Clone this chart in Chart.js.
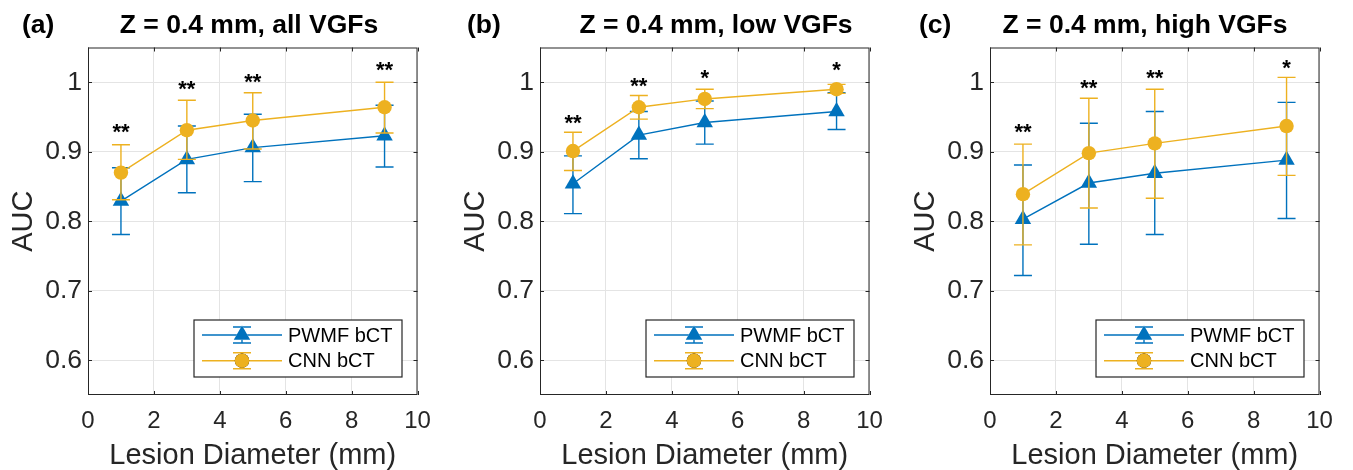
<!doctype html>
<html>
<head>
<meta charset="utf-8">
<title>AUC vs lesion diameter</title>
<script src="https://cdn.jsdelivr.net/npm/chart.js"></script>
<style>
  body { margin: 0; background: #fff; }
  .panel { position: absolute; top: 0; width: 451px; height: 470px; }
</style>
</head>
<body>
<div class="panel" style="left:0px"><canvas id="pa"></canvas></div>
<div class="panel" style="left:452px"><canvas id="pb"></canvas></div>
<div class="panel" style="left:902px"><canvas id="pc"></canvas></div>
<script>
// lesion diameters (mm)
const diam = [1, 3, 5, 9];
const xTicks = [0, 2, 4, 6, 8, 10];
const yTicks = [0.6, 0.7, 0.8, 0.9, 1.0];
const seriesNames = ['PWMF bCT', 'CNN bCT'];

// (a) all VGFs
const pwmfA = [0.829, 0.889, 0.906, 0.923];
const pwmfALo = [0.781, 0.841, 0.857, 0.878];
const pwmfAHi = [0.877, 0.937, 0.954, 0.967];
const cnnA = [0.870, 0.931, 0.945, 0.964];
const cnnALo = [0.831, 0.889, 0.904, 0.927];
const cnnAHi = [0.910, 0.974, 0.985, 1.000];
const starsA = ['**', '**', '**', '**'];
const starYA = [0.933, 0.995, 1.005, 1.022];

// (b) low VGFs
const pwmfB = [0.854, 0.924, 0.942, 0.958];
const pwmfBLo = [0.811, 0.890, 0.911, 0.932];
const pwmfBHi = [0.894, 0.958, 0.973, 0.985];
const cnnB = [0.901, 0.964, 0.976, 0.990];
const cnnBLo = [0.873, 0.947, 0.962, 0.984];
const cnnBHi = [0.928, 0.981, 0.990, 0.997];
const starsB = ['**', '**', '*', '*'];
const starYB = [0.947, 1.000, 1.011, 1.022];

// (c) high VGFs
const pwmfC = [0.803, 0.855, 0.869, 0.888];
const pwmfCLo = [0.722, 0.767, 0.781, 0.804];
const pwmfCHi = [0.881, 0.941, 0.958, 0.971];
const cnnC = [0.839, 0.898, 0.912, 0.937];
const cnnCLo = [0.766, 0.819, 0.833, 0.866];
const cnnCHi = [0.911, 0.977, 0.990, 1.007];
const starsC = ['**', '**', '**', '*'];
const starYC = [0.933, 0.997, 1.011, 1.025];

const FONT = '"Liberation Sans", Arial, Helvetica, sans-serif';
const INK = '#262626';
const BLUE = '#0072BD';
const GOLD = '#EDB120';

// error bars go under each dataset's own line/markers
const errorBars = {
    id: 'errorBars',
    beforeDatasetDraw(chart, args) {
        const ds = chart.data.datasets[args.index];
        const xs = chart.scales.x, ys = chart.scales.y, ctx = chart.ctx;
        ctx.save();
        ctx.strokeStyle = ds.borderColor;
        ctx.lineWidth = 1.4;
        ds.data.forEach((p, i) => {
            const px = xs.getPixelForValue(p.x);
            const lo = ys.getPixelForValue(ds.errLo[i]);
            const hi = ys.getPixelForValue(ds.errHi[i]);
            ctx.beginPath();
            ctx.moveTo(px, lo); ctx.lineTo(px, hi);
            ctx.moveTo(px - 9, lo); ctx.lineTo(px + 9, lo);
            ctx.moveTo(px - 9, hi); ctx.lineTo(px + 9, hi);
            ctx.stroke();
        });
        ctx.restore();
    }
};

// box, inward ticks, stars, titles, legend
const decorations = {
    id: 'decorations',
    afterDraw(chart) {
        const o = chart.options.plugins.decorations;
        const ctx = chart.ctx, a = chart.chartArea;
        const xs = chart.scales.x, ys = chart.scales.y;
        ctx.save();

        ctx.strokeStyle = INK;
        ctx.lineWidth = 1;
        ctx.strokeRect(a.left + 0.5, a.top + 0.5, a.right - a.left - 1, a.bottom - a.top - 1);
        ctx.beginPath();
        xs.ticks.forEach(t => {
            const px = Math.round(xs.getPixelForValue(t.value)) + 0.5;
            ctx.moveTo(px, a.bottom); ctx.lineTo(px, a.bottom - 4);
            ctx.moveTo(px, a.top); ctx.lineTo(px, a.top + 4);
        });
        ys.ticks.forEach(t => {
            const py = Math.round(ys.getPixelForValue(t.value)) + 0.5;
            ctx.moveTo(a.left, py); ctx.lineTo(a.left + 4, py);
            ctx.moveTo(a.right, py); ctx.lineTo(a.right - 4, py);
        });
        ctx.stroke();

        // significance stars
        ctx.fillStyle = '#000';
        ctx.font = 'bold 22px ' + FONT;
        ctx.textAlign = 'center';
        ctx.textBaseline = 'alphabetic';
        o.stars.forEach((s, i) => {
            ctx.fillText(s, xs.getPixelForValue(diam[i]), ys.getPixelForValue(o.starY[i]) + 10.5);
        });

        // panel letter and title
        ctx.fillStyle = '#000';
        ctx.font = 'bold 26.5px ' + FONT;
        ctx.textAlign = 'left';
        ctx.fillText(o.letter, o.letterX, 33);
        ctx.textAlign = 'center';
        ctx.fillText(o.title, o.titleX, 33);

        // legend
        const lw = 208, lh = 57;
        const lx = a.right - 223.5, ly = a.bottom - 75;
        ctx.fillStyle = '#fff';
        ctx.fillRect(lx, ly, lw, lh);
        ctx.strokeStyle = INK;
        ctx.lineWidth = 1.2;
        ctx.strokeRect(lx, ly, lw, lh);
        chart.data.datasets.forEach((ds, i) => {
            const cy = ly + 15 + i * 25.7;
            const mx = lx + 48;
            ctx.strokeStyle = ds.borderColor;
            ctx.lineWidth = 1.4;
            ctx.beginPath();
            ctx.moveTo(lx + 8, cy); ctx.lineTo(lx + 88, cy);
            ctx.moveTo(mx, cy - 8); ctx.lineTo(mx, cy + 8);
            ctx.moveTo(mx - 9, cy - 8); ctx.lineTo(mx + 9, cy - 8);
            ctx.moveTo(mx - 9, cy + 8); ctx.lineTo(mx + 9, cy + 8);
            ctx.stroke();
            Chart.helpers.drawPoint(ctx, {
                pointStyle: ds.pointStyle, radius: ds.pointRadius, borderWidth: 0, rotation: 0
            }, mx, cy);
            ctx.fillStyle = ds.backgroundColor;
            ctx.fill();
            ctx.fillStyle = '#000';
            ctx.font = '20px ' + FONT;
            ctx.textAlign = 'left';
            ctx.textBaseline = 'middle';
            ctx.fillText(ds.label, lx + 94, cy + 1);
            ctx.textBaseline = 'alphabetic';
        });
        ctx.restore();
    }
};

function series(label, vals, lo, hi, color, style, radius, order) {
    return {
        label: label,
        data: diam.map((x, i) => ({ x: x, y: vals[i] })),
        errLo: lo,
        errHi: hi,
        borderColor: color,
        backgroundColor: color,
        borderWidth: 1.4,
        pointStyle: style,
        pointRadius: radius,
        pointBorderWidth: 0,
        pointBackgroundColor: color,
        tension: 0,
        order: order
    };
}

function makePanel(id, deco, pwmf, pwmfLo, pwmfHi, cnn, cnnLo, cnnHi) {
    new Chart(document.getElementById(id), {
        type: 'line',
        data: {
            datasets: [
                series(seriesNames[0], pwmf, pwmfLo, pwmfHi, BLUE, 'triangle', 9.5, 1),
                series(seriesNames[1], cnn, cnnLo, cnnHi, GOLD, 'circle', 7.2, 0)
            ]
        },
        options: {
            responsive: true,
            maintainAspectRatio: false,
            animation: false,
            layout: { padding: { top: 47.5, right: 33.5, left: 0, bottom: 0 } },
            plugins: {
                legend: { display: false },
                tooltip: { enabled: false },
                decorations: deco
            },
            scales: {
                x: {
                    type: 'linear',
                    min: 0,
                    max: 10,
                    afterBuildTicks: s => { s.ticks = xTicks.map(v => ({ value: v })); },
                    afterFit: s => { s.height = 75; },
                    grid: { color: '#e4e4e4', drawTicks: false },
                    border: { display: false },
                    ticks: {
                        color: INK,
                        font: { family: FONT, size: 24 },
                        padding: 12,
                        maxRotation: 0,
                        autoSkip: false,
                        callback: v => String(v)
                    },
                    title: {
                        display: true,
                        text: 'Lesion Diameter (mm)',
                        color: INK,
                        font: { family: FONT, size: 29, lineHeight: 1.0 },
                        padding: { top: 0, bottom: 0 }
                    }
                },
                y: {
                    type: 'linear',
                    min: 0.55,
                    max: 1.05,
                    afterBuildTicks: s => { s.ticks = yTicks.map(v => ({ value: v })); },
                    afterFit: s => { s.width = 88; },
                    grid: { color: '#e4e4e4', drawTicks: false },
                    border: { display: false },
                    ticks: {
                        color: INK,
                        font: { family: FONT, size: 26.5 },
                        padding: 6,
                        callback: v => String(+v.toFixed(2))
                    },
                    title: {
                        display: true,
                        text: 'AUC',
                        color: INK,
                        font: { family: FONT, size: 29 },
                        padding: { top: 7, bottom: 0 }
                    }
                }
            }
        },
        plugins: [errorBars, decorations]
    });
}

makePanel('pa', { letter: '(a)', letterX: 22, title: 'Z = 0.4 mm, all VGFs', titleX: 249, stars: starsA, starY: starYA },
    pwmfA, pwmfALo, pwmfAHi, cnnA, cnnALo, cnnAHi);
makePanel('pb', { letter: '(b)', letterX: 15, title: 'Z = 0.4 mm, low VGFs', titleX: 264, stars: starsB, starY: starYB },
    pwmfB, pwmfBLo, pwmfBHi, cnnB, cnnBLo, cnnBHi);
makePanel('pc', { letter: '(c)', letterX: 17, title: 'Z = 0.4 mm, high VGFs', titleX: 243, stars: starsC, starY: starYC },
    pwmfC, pwmfCLo, pwmfCHi, cnnC, cnnCLo, cnnCHi);
</script>
</body>
</html>
